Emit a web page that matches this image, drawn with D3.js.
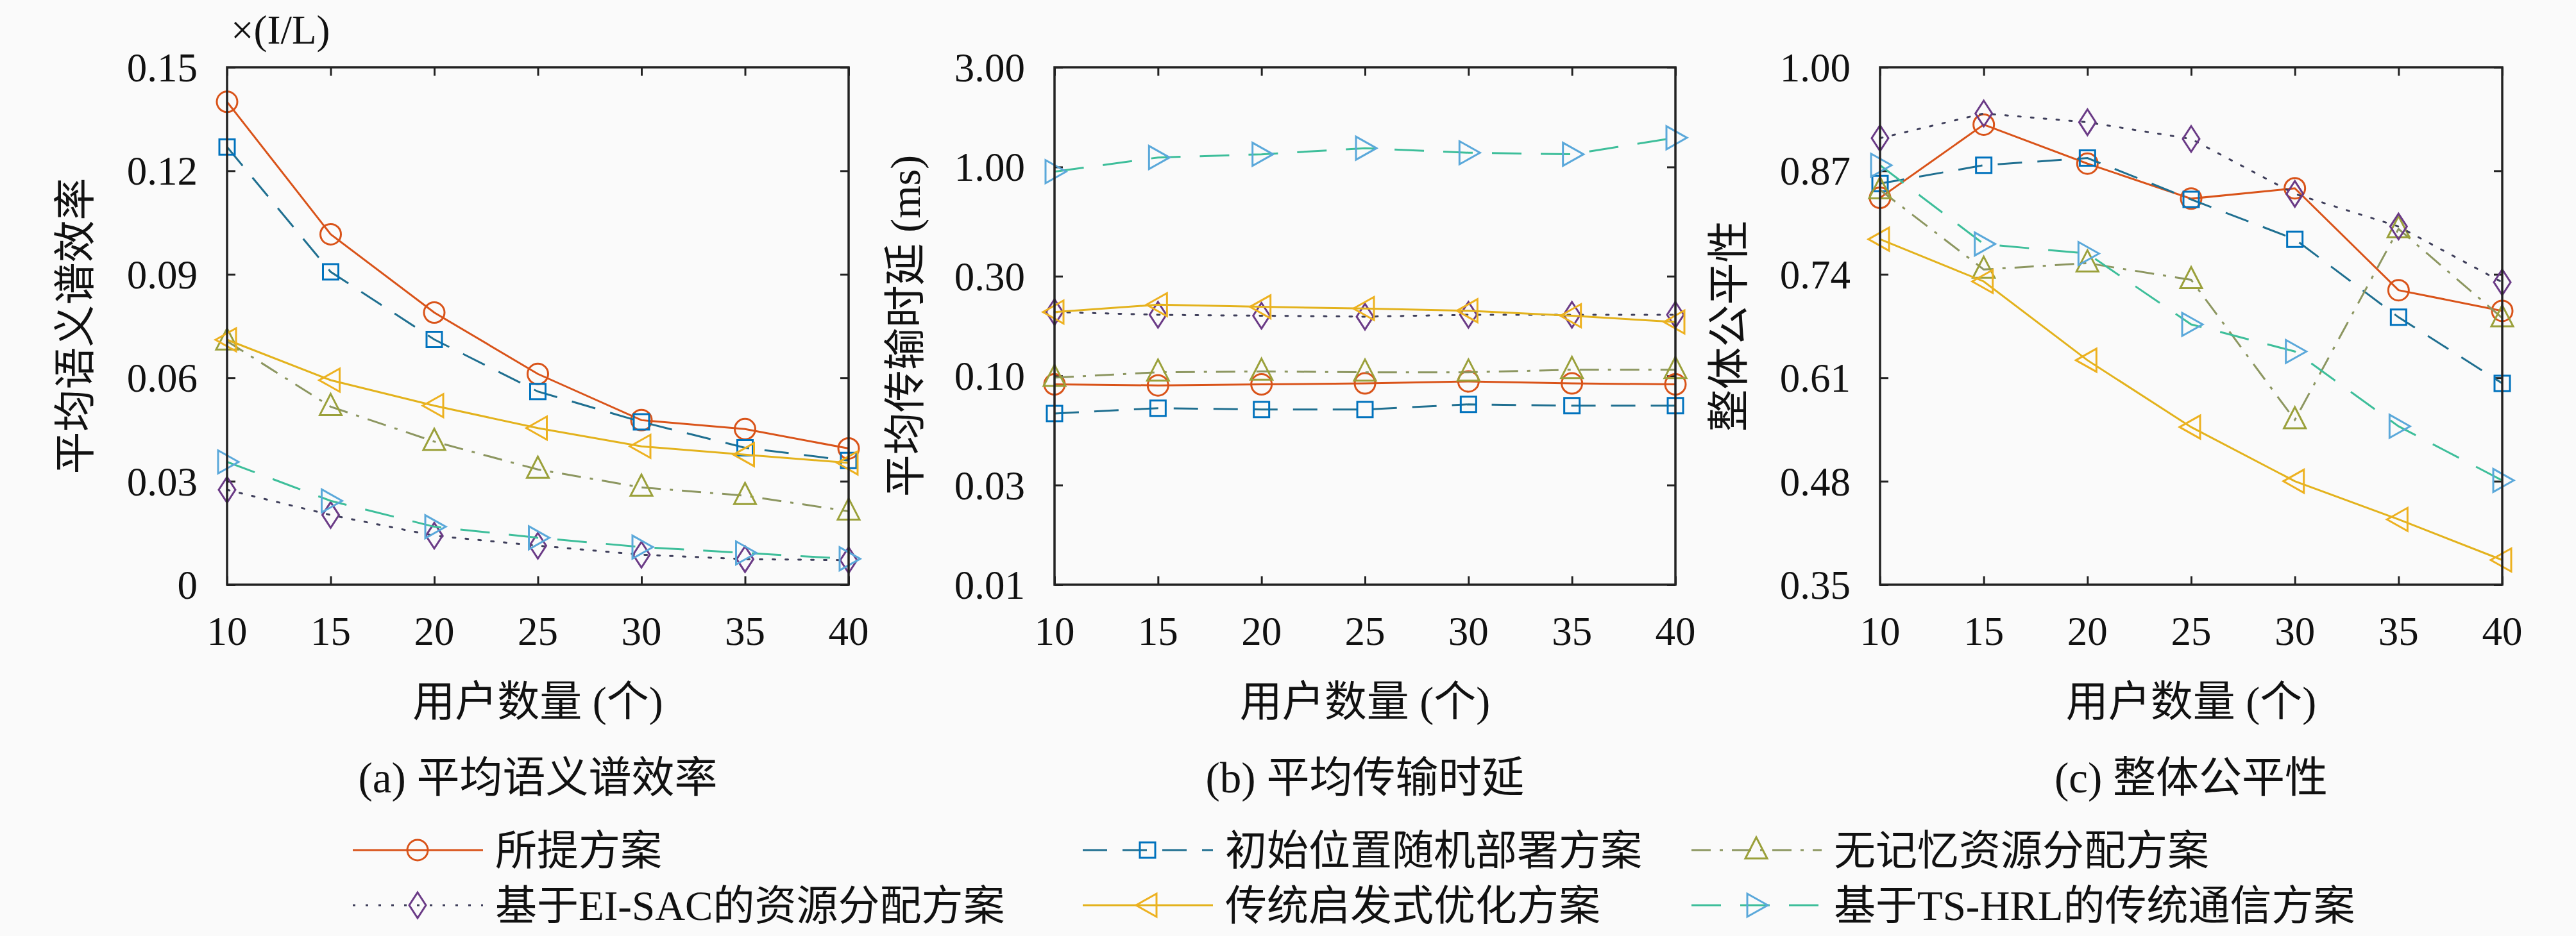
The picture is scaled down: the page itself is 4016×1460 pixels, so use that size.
<!DOCTYPE html>
<html>
<head>
<meta charset="utf-8">
<script src="https://cdn.jsdelivr.net/npm/d3@7"></script>
<style>
html,body{margin:0;padding:0;background:#fafafa;}
svg{display:block;}
text{fill:#111;}
</style>
</head>
<body>
<svg id="chart" width="4016" height="1460"></svg>
<script>
// ---------------- DATA ----------------
const users = [10, 15, 20, 25, 30, 35, 40];
const xTicks = [10, 15, 20, 25, 30, 35, 40];

const seriesNames = ["所提方案", "初始位置随机部署方案", "无记忆资源分配方案",
                     "基于EI-SAC的资源分配方案", "传统启发式优化方案", "基于TS-HRL的传统通信方案"];

// (a) 平均语义谱效率
const seA_proposed = [0.140, 0.1016, 0.0789, 0.0611, 0.0477, 0.0451, 0.0395];
const seA_random   = [0.1269, 0.0907, 0.0711, 0.0560, 0.0472, 0.0397, 0.0360];
const seA_memless  = [0.0706, 0.0516, 0.0415, 0.0334, 0.0282, 0.0258, 0.0213];
const seA_eisac    = [0.0275, 0.0202, 0.0142, 0.0113, 0.0087, 0.0074, 0.0071];
const seA_heur     = [0.0710, 0.0593, 0.0519, 0.0454, 0.0401, 0.0377, 0.0353];
const seA_tshrl    = [0.0356, 0.0243, 0.0168, 0.0136, 0.0109, 0.0092, 0.0075];
const ticksA = [0, 0.03, 0.06, 0.09, 0.12, 0.15];
const tickLabelsA = ["0", "0.03", "0.06", "0.09", "0.12", "0.15"];

// (b) 平均传输时延 (ms)
const dlB_proposed = [0.091, 0.090, 0.091, 0.092, 0.094, 0.092, 0.091];
const dlB_random   = [0.066, 0.070, 0.069, 0.069, 0.073, 0.072, 0.072];
const dlB_memless  = [0.098, 0.104, 0.105, 0.104, 0.104, 0.107, 0.107];
const dlB_eisac    = [0.202, 0.196, 0.194, 0.192, 0.196, 0.196, 0.196];
const dlB_heur     = [0.202, 0.219, 0.214, 0.210, 0.205, 0.194, 0.181];
const dlB_tshrl    = [0.95, 1.11, 1.15, 1.23, 1.17, 1.15, 1.38];
const ticksB = [0.01, 0.03, 0.10, 0.30, 1.00, 3.00];
const tickLabelsB = ["0.01", "0.03", "0.10", "0.30", "1.00", "3.00"];

// (c) 整体公平性
const frC_proposed = [0.836, 0.928, 0.879, 0.835, 0.848, 0.720, 0.694];
const frC_random   = [0.854, 0.877, 0.886, 0.834, 0.784, 0.686, 0.603];
const frC_memless  = [0.846, 0.746, 0.754, 0.733, 0.557, 0.797, 0.685];
const frC_eisac    = [0.911, 0.942, 0.931, 0.910, 0.841, 0.800, 0.730];
const frC_heur     = [0.784, 0.731, 0.632, 0.548, 0.480, 0.432, 0.381];
const frC_tshrl    = [0.877, 0.778, 0.766, 0.677, 0.643, 0.549, 0.481];
const ticksC = [0.35, 0.48, 0.61, 0.74, 0.87, 1.00];
const tickLabelsC = ["0.35", "0.48", "0.61", "0.74", "0.87", "1.00"];

const panelTitles = ["(a) 平均语义谱效率", "(b) 平均传输时延", "(c) 整体公平性"];
const yLabels = ["平均语义谱效率", "平均传输时延 (ms)", "整体公平性"];
const xLabel = "用户数量 (个)";
const unitLabel = "×(I/L)";

// ---------------- STYLES ----------------
const styles = [
  {line: "#D95319", marker: "#D95319", dash: null, shape: "circle"},
  {line: "#1F6F90", marker: "#0072BD", dash: "38,24", shape: "square"},
  {line: "#8C9660", marker: "#9AA03A", dash: "30,14,5,14", shape: "triUp"},
  {line: "#3E3E5A", marker: "#6A3A86", dash: "4,16", shape: "diamond"},
  {line: "#E3B21C", marker: "#EDB120", dash: null, shape: "triLeft"},
  {line: "#3DBE9A", marker: "#5AA8DA", dash: "46,30", shape: "triRight"}
];

const serif = "'Liberation Serif','Times New Roman',serif";
const cjk = "'Noto Sans CJK SC',sans-serif";
const svg = d3.select("#chart");
svg.append("rect").attr("width", 4016).attr("height", 1460).attr("fill", "#fafafa");

// write mixed Latin/CJK text with separate fonts per run
function mixedText(sel, str) {
  const parts = str.split(/([\u3000-\u9fff\uff00-\uffef]+)/).filter(s => s.length);
  parts.forEach(s => {
    const isCjk = /[\u3000-\u9fff\uff00-\uffef]/.test(s);
    sel.append("tspan").attr("font-family", isCjk ? cjk : serif).text(s);
  });
  return sel;
}

const plotTop = 105, plotBottom = 912;
const panels = [
  {left: 354, right: 1323, scale: d3.scaleLinear().domain([0, 0.15]),
   ticks: ticksA, labels: tickLabelsA,
   data: [seA_proposed, seA_random, seA_memless, seA_eisac, seA_heur, seA_tshrl], ylx: 116},
  {left: 1644, right: 2612, scale: d3.scaleLog().domain([0.01, 3.0]),
   ticks: ticksB, labels: tickLabelsB,
   data: [dlB_proposed, dlB_random, dlB_memless, dlB_eisac, dlB_heur, dlB_tshrl], ylx: 1410},
  {left: 2931, right: 3901, scale: d3.scaleLinear().domain([0.35, 1.0]),
   ticks: ticksC, labels: tickLabelsC,
   data: [frC_proposed, frC_random, frC_memless, frC_eisac, frC_heur, frC_tshrl], ylx: 2694}
];

function markerPath(shape) {
  switch (shape) {
    case "circle": return null;
    case "square": return "M-12,-12H12V12H-12Z";
    case "triUp": return "M0,-20L17,13H-17Z";
    case "triLeft": return "M-18,0L14,-18V18Z";
    case "triRight": return "M18,0L-14,-18V18Z";
    case "diamond": return "M0,-20L13,0L0,20L-13,0Z";
  }
}
function drawMarker(g, shape, color, x, y) {
  if (shape === "circle") {
    g.append("circle").attr("cx", x).attr("cy", y).attr("r", 16)
      .attr("fill", "none").attr("stroke", color).attr("stroke-width", 3);
  } else {
    g.append("path").attr("d", markerPath(shape))
      .attr("transform", `translate(${x},${y})`)
      .attr("fill", "none").attr("stroke", color).attr("stroke-width", 3)
      .attr("stroke-linejoin", "miter");
  }
}

panels.forEach((p, pi) => {
  const x = d3.scaleLinear().domain([10, 40]).range([p.left, p.right]);
  const y = p.scale.range([plotBottom, plotTop]);
  const g = svg.append("g");

  // axes with inner ticks
  const axB = d3.axisBottom(x).tickValues(xTicks).tickSize(-13).tickFormat("");
  const axT = d3.axisTop(x).tickValues(xTicks).tickSize(-13).tickFormat("");
  const axL = d3.axisLeft(y).tickValues(p.ticks).tickSize(-13).tickFormat("");
  const axR = d3.axisRight(y).tickValues(p.ticks).tickSize(-13).tickFormat("");
  [[axB, `translate(0,${plotBottom})`], [axT, `translate(0,${plotTop})`],
   [axL, `translate(${p.left},0)`], [axR, `translate(${p.right},0)`]].forEach(([ax, tr]) => {
    const a = g.append("g").attr("transform", tr).call(ax);
    a.select(".domain").remove();
    a.selectAll("line").attr("stroke", "#222").attr("stroke-width", 3);
  });

  // lines + markers
  p.data.forEach((vals, si) => {
    const st = styles[si];
    const pts = users.map((u, i) => [x(u), y(vals[i])]);
    const path = g.append("path").attr("d", d3.line()(pts))
      .attr("fill", "none").attr("stroke", st.line).attr("stroke-width", 3)
      .attr("stroke-linecap", st.dash === "4,16" ? "round" : "butt");
    if (st.dash) path.attr("stroke-dasharray", st.dash);
    pts.forEach(pt => drawMarker(g, st.shape, st.marker, pt[0], pt[1]));
  });

  // frame
  g.append("rect").attr("x", p.left).attr("y", plotTop)
    .attr("width", p.right - p.left).attr("height", plotBottom - plotTop)
    .attr("fill", "none").attr("stroke", "#222").attr("stroke-width", 3.5);

  // tick labels
  p.ticks.forEach((t, i) => {
    g.append("text").attr("x", p.left - 46).attr("y", y(t)).attr("dy", "0.35em")
      .attr("text-anchor", "end").attr("font-family", serif).attr("font-size", 63)
      .text(p.labels[i]);
  });
  xTicks.forEach(t => {
    g.append("text").attr("x", x(t)).attr("y", 1006)
      .attr("text-anchor", "middle").attr("font-family", serif).attr("font-size", 63)
      .text(t);
  });

  const cx = (p.left + p.right) / 2;
  mixedText(g.append("text").attr("x", cx).attr("y", 1093).attr("dy", "0.36em")
    .attr("text-anchor", "middle").attr("font-size", 66), xLabel);
  mixedText(g.append("text").attr("x", cx).attr("y", 1212).attr("dy", "0.36em")
    .attr("text-anchor", "middle").attr("font-size", 67), panelTitles[pi]);
  mixedText(g.append("text").attr("transform", `translate(${p.ylx},${(plotTop + plotBottom) / 2}) rotate(-90)`)
    .attr("dy", "0.36em").attr("text-anchor", "middle").attr("font-size", 66), yLabels[pi]);
});

// unit label
svg.append("text").attr("x", 360).attr("y", 45).attr("dy", "0.36em")
  .attr("font-family", serif).attr("font-size", 63).text(unitLabel);

// legend
const legCols = [550, 1688, 2637];
const legRows = [1326, 1412];
seriesNames.forEach((name, i) => {
  const st = styles[i];
  const lx = legCols[i % 3], ly = legRows[Math.floor(i / 3)];
  const g = svg.append("g");
  const ln = g.append("line").attr("x1", lx).attr("x2", lx + 203).attr("y1", ly).attr("y2", ly)
    .attr("stroke", st.line).attr("stroke-width", 3);
  if (st.dash) ln.attr("stroke-dasharray", st.dash);
  drawMarker(g, st.shape, st.marker, lx + 101, ly);
  mixedText(g.append("text").attr("x", lx + 222).attr("y", ly).attr("dy", "0.36em")
    .attr("font-size", 65), name);
});
</script>
</body>
</html>
